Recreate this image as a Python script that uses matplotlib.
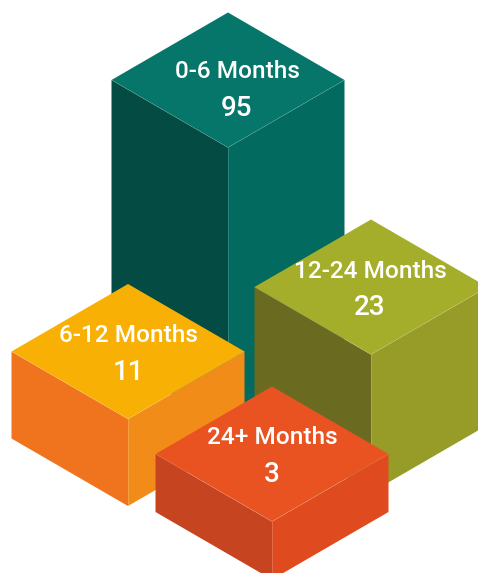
import matplotlib
matplotlib.use("Agg")
import matplotlib.pyplot as plt
from matplotlib.patches import Polygon

plt.rcParams["font.family"] = ["Roboto", "DejaVu Sans"]

# back to front, the order the boxes overlap in
labels = ["0-6 Months", "12-24 Months", "6-12 Months", "24+ Months"]
values = [95, 23, 11, 3]

# drawn box heights in pixels, the picture does not scale them linearly
box_heights = [280, 138, 87, 58]
centers_x = [228, 371, 128, 272]
centers_y = [80, 287, 351.5, 454]
text_x = [237, 370, 128, 272]
label_y = [71, 271, 335, 437]
value_y = [108.5, 307.5, 372.5, 474.5]

top_colors = ["#07766A", "#A5AE2A", "#F9B004", "#E95322"]
left_colors = ["#034B43", "#6A6B20", "#F0741E", "#C64520"]
right_colors = ["#026A5E", "#979C28", "#F28C18", "#DF4B1F"]

half_w = 116.5
half_h = 67.5


def draw_box(ax, cx, cy, height, top, left, right, z):
    l = (cx - half_w, cy)
    r = (cx + half_w, cy)
    t = (cx, cy - half_h)
    b = (cx, cy + half_h)
    l2 = (l[0], l[1] + height)
    r2 = (r[0], r[1] + height)
    b2 = (b[0], b[1] + height)
    ax.add_patch(Polygon([l, b, b2, l2], facecolor=left, edgecolor="none", zorder=z))
    ax.add_patch(Polygon([b, r, r2, b2], facecolor=right, edgecolor="none", zorder=z))
    ax.add_patch(Polygon([l, t, r, b], facecolor=top, edgecolor="none", zorder=z))
    # thin light seams where the faces meet
    ax.plot([l[0], b[0], r[0]], [l[1], b[1], r[1]], color="white", lw=0.4, alpha=0.2, zorder=z)
    ax.plot([b[0], b2[0]], [b[1], b2[1]], color="white", lw=0.5, alpha=0.25, zorder=z)


fig = plt.figure(figsize=(4.78, 5.73), dpi=100)
ax = fig.add_axes([0, 0, 1, 1])
ax.set_xlim(0, 478)
ax.set_ylim(573, 0)
ax.axis("off")

for i in range(len(values)):
    draw_box(ax, centers_x[i], centers_y[i], box_heights[i],
             top_colors[i], left_colors[i], right_colors[i], z=i + 1)
    ax.text(text_x[i], label_y[i], labels[i], color="white", fontsize=17.6,
            ha="center", va="center", fontweight="medium", zorder=10)
    ax.text(text_x[i], value_y[i], str(values[i]), color="white", fontsize=20,
            ha="center", va="center", fontweight="medium", zorder=10)

fig.savefig("out.png", dpi=100)
